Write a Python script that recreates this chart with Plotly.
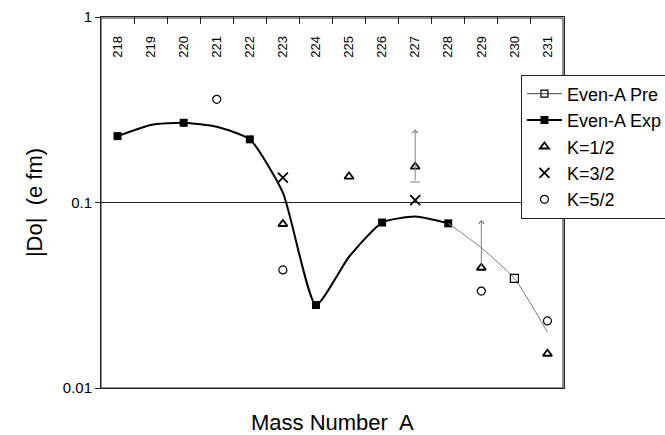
import math
import plotly.graph_objects as go

# ---- data ----
mass_numbers = list(range(218, 232))
tick_labels = [str(a) for a in mass_numbers]

exp_A = [218, 219, 220, 221, 222, 223, 224, 225, 226, 227, 228]
exp_D = [0.228, 0.262, 0.269, 0.256, 0.219, 0.113, 0.028, 0.051, 0.078, 0.084, 0.0772]
exp_measured = [True, False, True, False, True, False, True, False, True, False, True]

pre_A = [228, 229, 230, 231]
pre_D = [0.0772, 0.057, 0.039, 0.020]
pre_marked = [False, False, True, False]

k12_A = [223, 225, 227, 229, 231]
k12_D = [0.0766, 0.138, 0.156, 0.0445, 0.0153]

k32_A = [223, 227]
k32_D = [0.136, 0.103]

k52_A = [221, 223, 229, 231]
k52_D = [0.360, 0.0433, 0.0333, 0.023]

limit_A = [227, 229]
limit_lo = [0.129, 0.0445]
limit_hi = [0.248, 0.0805]
limit_cap = [True, False]

y_tick_vals = [0.01, 0.1, 1]
y_tick_text = ["0.01", "0.1", "1"]

FONT = "Liberation Sans, Arial, sans-serif"
AXIS = "#222222"
GREY = "#808080"
SMOOTH = 0.55
X_RANGE = [mass_numbers[0] - 0.5, mass_numbers[-1] + 0.5]
boundaries = [a - 0.5 for a in mass_numbers] + [mass_numbers[-1] + 0.5]

fig = go.Figure()

# Even-A experimental: smoothed line + filled squares
fig.add_trace(go.Scatter(x=exp_A, y=exp_D, mode="lines",
                         line=dict(color="black", width=2, shape="spline", smoothing=SMOOTH),
                         showlegend=False, hoverinfo="skip"))
fig.add_trace(go.Scatter(x=[a for a, m in zip(exp_A, exp_measured) if m],
                         y=[d for d, m in zip(exp_D, exp_measured) if m],
                         mode="markers",
                         marker=dict(symbol="square", size=8, color="black"),
                         showlegend=False))
# Even-A predicted: thin grey smoothed line + open square
fig.add_trace(go.Scatter(x=pre_A, y=pre_D, mode="lines",
                         line=dict(color=GREY, width=1, shape="spline", smoothing=SMOOTH),
                         showlegend=False, hoverinfo="skip"))
fig.add_trace(go.Scatter(x=[a for a, m in zip(pre_A, pre_marked) if m],
                         y=[d for d, m in zip(pre_D, pre_marked) if m],
                         mode="markers",
                         marker=dict(symbol="square-open", size=8, color="black",
                                     line=dict(width=1.2)),
                         showlegend=False))

# legend entries for the two line series
fig.add_trace(go.Scatter(x=[None], y=[None], mode="lines+markers", name="Even-A Pre",
                         line=dict(color="#444444", width=1),
                         marker=dict(symbol="square-open", size=7, color="black",
                                     line=dict(width=1.2)),
                         legendrank=1))
fig.add_trace(go.Scatter(x=[None], y=[None], mode="lines+markers", name="Even-A Exp",
                         line=dict(color="black", width=2),
                         marker=dict(symbol="square", size=8, color="black"),
                         legendrank=2))

fig.add_trace(go.Scatter(x=k12_A, y=k12_D, mode="markers", name="K=1/2",
                         marker=dict(symbol="triangle-up-open", size=8, color="black",
                                     line=dict(width=1.8)),
                         legendrank=3))
fig.add_trace(go.Scatter(x=k32_A, y=k32_D, mode="markers", name="K=3/2",
                         marker=dict(symbol="x-thin-open", size=10, color="black",
                                     line=dict(width=1.8)),
                         legendrank=4))
fig.add_trace(go.Scatter(x=k52_A, y=k52_D, mode="markers", name="K=5/2",
                         marker=dict(symbol="circle-open", size=8, color="black",
                                     line=dict(width=1.2)),
                         legendrank=5))

# caps on the lower end of limit bars
fig.add_trace(go.Scatter(x=[a for a, c in zip(limit_A, limit_cap) if c],
                         y=[lo for lo, c in zip(limit_lo, limit_cap) if c],
                         mode="markers",
                         marker=dict(symbol="line-ew-open", size=7, color=GREY,
                                     line=dict(width=1, color=GREY)),
                         showlegend=False, hoverinfo="skip"))

# invisible helper trace so the label axis is active
fig.add_trace(go.Scatter(x=[X_RANGE[0]], y=[None], xaxis="x2", showlegend=False,
                         hoverinfo="skip", mode="markers"))

annotations = []
for a, lo, hi in zip(limit_A, limit_lo, limit_hi):
    annotations.append(dict(x=a, y=math.log10(hi), ax=a, ay=math.log10(lo),
                            xref="x", yref="y", axref="x", ayref="y",
                            showarrow=True, arrowhead=4, arrowsize=1.1,
                            arrowwidth=1, arrowcolor=GREY, text=""))
annotations.append(dict(text="Mass Number  A", x=0.5, y=0, xref="paper", yref="paper",
                        xanchor="center", yanchor="top", yshift=-20, showarrow=False,
                        font=dict(family=FONT, size=22, color="black")))

fig.update_layout(
    width=665, height=435,
    margin=dict(l=101, r=101, t=17, b=47, autoexpand=False),
    paper_bgcolor="white", plot_bgcolor="white",
    font=dict(family=FONT, color="black"),
    showlegend=True, dragmode=False,
    legend=dict(x=0.907, y=0.845, xanchor="left", yanchor="top",
                bgcolor="white", bordercolor=AXIS, borderwidth=1,
                font=dict(family=FONT, size=18, color="black"),
                itemwidth=35),
    annotations=annotations,
    # frame around the plotting area (drawn just inside the edges)
    shapes=[dict(type="rect", xref="paper", yref="paper",
                 x0=0, x1=1 - 1.0 / 463, y0=0, y1=1 - 1.0 / 371,
                 line=dict(color=AXIS, width=1), fillcolor="rgba(0,0,0,0)",
                 layer="above")],
    # data axis: frame line at the top (mirrored to the bottom) with
    # category-boundary ticks hanging down from the top edge
    xaxis=dict(range=X_RANGE, side="top", tickmode="array", tickvals=boundaries,
               ticks="inside", ticklen=7, tickwidth=1, tickcolor=AXIS,
               showticklabels=False,
               showline=True, linecolor=AXIS, linewidth=1, mirror=True,
               showgrid=False, zeroline=False),
    # mass-number labels written inside the frame, near its top
    xaxis2=dict(range=X_RANGE, overlaying="x", anchor="free", position=0.890,
                side="top", tickmode="array", tickvals=mass_numbers,
                ticktext=tick_labels, tickangle=-90, ticks="",
                tickfont=dict(family=FONT, size=13, color="black"),
                showline=False, showgrid=False, zeroline=False),
)

fig.update_yaxes(
    type="log", range=[-2, 0],
    tickmode="array", tickvals=y_tick_vals, ticktext=y_tick_text,
    ticks="outside", ticklen=5, tickcolor=AXIS, ticksuffix="\u00a0",
    tickfont=dict(family=FONT, size=15, color="black"),
    showline=True, linecolor=AXIS, linewidth=1, mirror=True,
    showgrid=True, gridcolor=AXIS, gridwidth=1, zeroline=False,
    title=dict(text="|Do|  (e fm)", font=dict(family=FONT, size=22, color="black"),
               standoff=14),
)

fig.write_html("out.html", config={"displayModeBar": False, "staticPlot": True},
               post_script="document.body.style.margin='0px';")
